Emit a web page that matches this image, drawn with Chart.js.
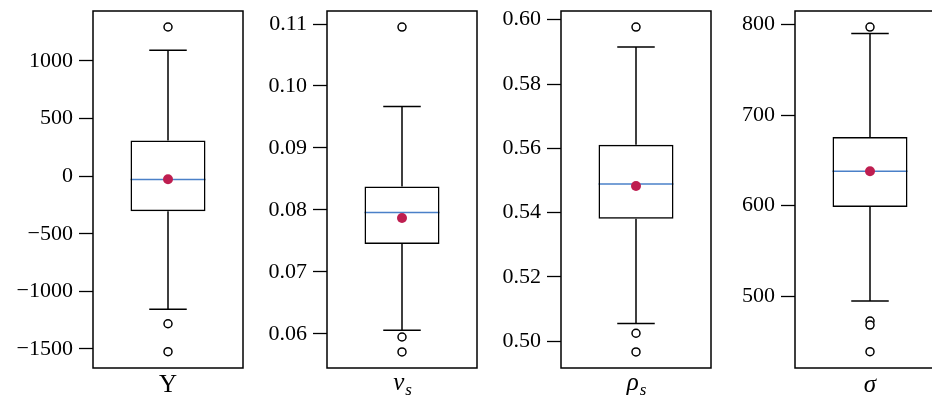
<!DOCTYPE html>
<html>
<head>
<meta charset="utf-8">
<script src="https://cdn.jsdelivr.net/npm/chart.js@4"></script>
<style>
  html, body { margin: 0; padding: 0; background: #fff; overflow: hidden; width: 932px; height: 401px; }
  canvas { position: absolute; top: 0; }
</style>
</head>
<body>
<canvas id="c0" width="250" height="401" style="left:0px"></canvas>
<canvas id="c1" width="250" height="401" style="left:234px"></canvas>
<canvas id="c2" width="250" height="401" style="left:468px"></canvas>
<canvas id="c3" width="250" height="401" style="left:702px"></canvas>
<script>
// one box per panel
const names = ["Y", "v", "ρ", "σ"];
const subs = ["", "s", "s", ""];
const q1 = [-304, 0.0745, 0.5381, 598.6];
const medians = [-29, 0.0796, 0.5489, 637.9];
const q3 = [310, 0.0838, 0.5611, 675.7];
const whiskLo = [-1156, 0.0606, 0.5055, 495];
const whiskHi = [1093, 0.0967, 0.5915, 790];
const means = [-26, 0.0787, 0.5483, 638];
const outliers = [
  [1295, -1281, -1523],
  [0.1095, 0.0595, 0.0571],
  [0.5977, 0.5025, 0.4967],
  [797, 472.8, 468.4, 439]
];
const yMin = [-1665, 0.0545, 0.4917, 421];
const yMax = [1434, 0.1121, 0.6027, 814.7];
const tickValues = [
  [-1500, -1000, -500, 0, 500, 1000],
  [0.06, 0.07, 0.08, 0.09, 0.10, 0.11],
  [0.50, 0.52, 0.54, 0.56, 0.58, 0.60],
  [500, 600, 700, 800]
];
const tickLabels = [
  ["−1500", "−1000", "−500", "0", "500", "1000"],
  ["0.06", "0.07", "0.08", "0.09", "0.10", "0.11"],
  ["0.50", "0.52", "0.54", "0.56", "0.58", "0.60"],
  ["500", "600", "700", "800"]
];

const serif = "'Liberation Serif', 'DejaVu Serif', serif";

const boxParts = {
  id: "boxParts",
  beforeDatasetsDraw(chart) {
    const i = chart.options.panel;
    const ctx = chart.ctx;
    const x = chart.scales.x.getPixelForValue(0);
    const y = chart.scales.y;
    const box = chart.getDatasetMeta(0).data[0];
    const cap = box.width / 4;
    ctx.save();
    ctx.strokeStyle = "#000";
    ctx.lineWidth = 1.5;
    ctx.beginPath();
    ctx.moveTo(x, y.getPixelForValue(q3[i]));
    ctx.lineTo(x, y.getPixelForValue(whiskHi[i]));
    ctx.moveTo(x, y.getPixelForValue(q1[i]));
    ctx.lineTo(x, y.getPixelForValue(whiskLo[i]));
    ctx.moveTo(x - cap, y.getPixelForValue(whiskHi[i]));
    ctx.lineTo(x + cap, y.getPixelForValue(whiskHi[i]));
    ctx.moveTo(x - cap, y.getPixelForValue(whiskLo[i]));
    ctx.lineTo(x + cap, y.getPixelForValue(whiskLo[i]));
    ctx.stroke();
    ctx.strokeStyle = "#4a80c8";
    ctx.lineWidth = 1.5;
    ctx.beginPath();
    ctx.moveTo(box.x - box.width / 2, y.getPixelForValue(medians[i]));
    ctx.lineTo(box.x + box.width / 2, y.getPixelForValue(medians[i]));
    ctx.stroke();
    ctx.restore();
  },
  afterDraw(chart) {
    const i = chart.options.panel;
    const ctx = chart.ctx;
    const a = chart.chartArea;
    ctx.save();
    ctx.strokeStyle = "#000";
    ctx.lineWidth = 1.5;
    ctx.strokeRect(a.left, a.top, a.right - a.left, a.bottom - a.top);
    // x label, with a subscript where needed
    const x = chart.scales.x.getPixelForValue(0);
    ctx.fillStyle = "#000";
    ctx.textBaseline = "alphabetic";
    if (subs[i] === "") {
      ctx.font = (i === 0 ? "" : "italic ") + "25px " + serif;
      ctx.textAlign = "center";
      ctx.fillText(names[i], x, 392);
    } else {
      ctx.font = "italic 25px " + serif;
      const w1 = ctx.measureText(names[i]).width;
      ctx.font = "italic 17px " + serif;
      const w2 = ctx.measureText(subs[i]).width;
      const left = x - (w1 + w2) / 2;
      ctx.textAlign = "left";
      ctx.font = "italic 25px " + serif;
      ctx.fillText(names[i], left, 390);
      ctx.font = "italic 17px " + serif;
      ctx.fillText(subs[i], left + w1 + 1, 395);
    }
    ctx.restore();
  }
};

for (let i = 0; i < names.length; i++) {
  const label = names[i] + subs[i];
  const ctx = document.getElementById("c" + i).getContext("2d");
  new Chart(ctx, {
    data: {
      labels: [label],
      datasets: [
        {
          type: "bar",
          data: [[q1[i], q3[i]]],
          backgroundColor: "rgba(0,0,0,0)",
          borderColor: "#000",
          borderWidth: 1.5,
          borderSkipped: false,
          barPercentage: 0.5,
          categoryPercentage: 1,
          order: 3
        },
        {
          type: "line",
          data: outliers[i].map((v) => ({ x: label, y: v })),
          showLine: false,
          pointRadius: 4,
          pointBackgroundColor: "#fff",
          pointBorderColor: "#000",
          pointBorderWidth: 1.5,
          order: 2
        },
        {
          type: "line",
          data: [{ x: label, y: means[i] }],
          showLine: false,
          pointRadius: 5,
          pointBackgroundColor: "#be1e50",
          pointBorderColor: "#be1e50",
          pointBorderWidth: 0,
          order: 1
        }
      ]
    },
    options: {
      panel: i,
      responsive: false,
      animation: false,
      devicePixelRatio: 1,
      layout: { padding: { left: 0, right: 7, top: 11, bottom: 33 } },
      plugins: { legend: { display: false }, tooltip: { enabled: false } },
      scales: {
        x: { display: false, offset: true },
        y: {
          min: yMin[i],
          max: yMax[i],
          afterBuildTicks: (scale) => {
            scale.ticks = tickValues[i].map((v) => ({ value: v }));
          },
          afterFit: (scale) => {
            scale.width = 93;
            scale.paddingTop = 0;
            scale.paddingBottom = 0;
          },
          border: { display: false },
          grid: {
            drawOnChartArea: false,
            drawTicks: true,
            tickLength: 14,
            tickColor: "#000",
            tickWidth: 1.3
          },
          ticks: {
            padding: 6,
            color: "#000",
            font: { family: serif, size: 22 },
            callback: (value, index) => tickLabels[i][index]
          }
        }
      }
    },
    plugins: [boxParts]
  });
}
</script>
</body>
</html>
